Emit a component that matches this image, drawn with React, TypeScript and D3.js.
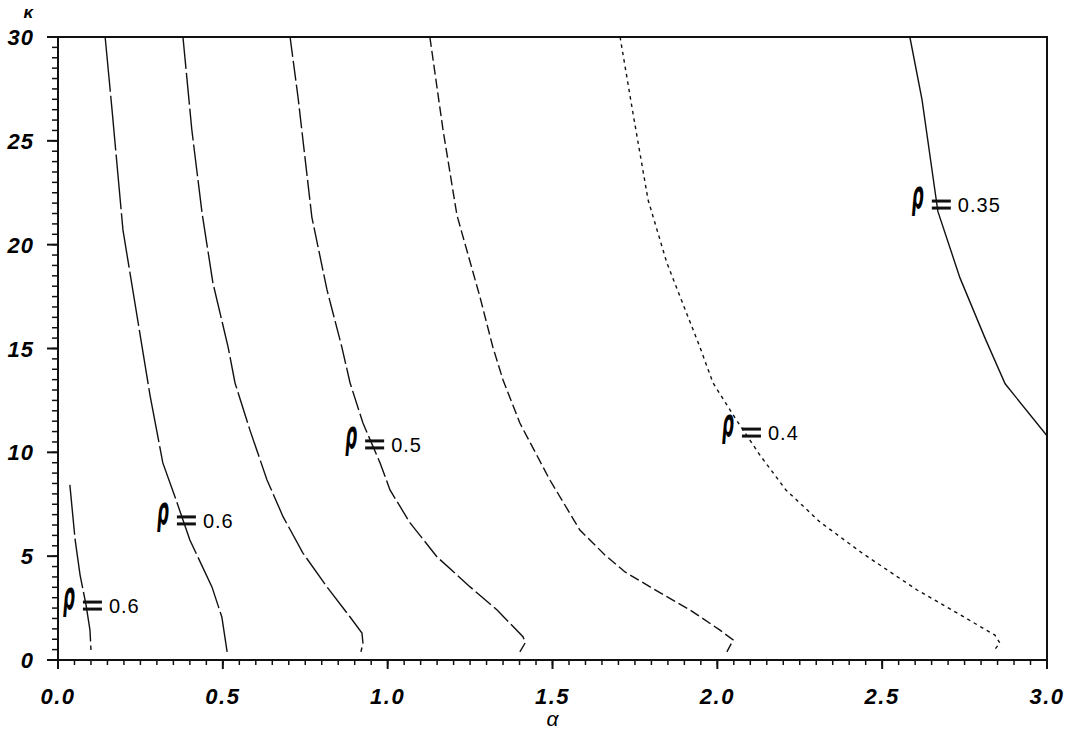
import React from "react";
import * as d3 from "d3";

// ---- data (alpha, kappa) pairs for each contour ----
const contourA: [number, number][] = [
  [0.036, 8.43], [0.052, 5.78], [0.067, 4.09], [0.085, 2.65], [0.097, 1.44], [0.1, 0.48],
];
const contourB: [number, number][] = [
  [0.143, 30], [0.164, 26.48], [0.197, 20.71], [0.279, 12.76], [0.318, 9.49], [0.355, 7.85],
  [0.4, 5.78], [0.467, 3.52], [0.497, 2.07], [0.513, 0.39],
];
const contourC: [number, number][] = [
  [0.379, 30], [0.406, 25.52], [0.437, 21.52], [0.47, 18.15], [0.516, 15.07], [0.537, 13.34],
  [0.582, 11.08], [0.634, 8.67], [0.683, 6.89], [0.743, 5.15], [0.816, 3.52], [0.886, 2.07],
  [0.922, 1.3], [0.925, 0.82], [0.919, 0.39],
];
const contourD: [number, number][] = [
  [0.704, 30], [0.728, 27.11], [0.77, 21.33], [0.816, 17.82], [0.861, 15.07], [0.886, 13.34],
  [0.925, 11.41], [0.977, 9.49], [1.007, 8.19], [1.068, 6.6], [1.15, 4.96], [1.25, 3.52],
  [1.332, 2.41], [1.411, 1.11], [1.417, 0.82], [1.401, 0.39],
];
const contourE: [number, number][] = [
  [1.128, 30], [1.168, 25.52], [1.21, 21.43], [1.28, 17.48], [1.319, 15.07], [1.35, 13.48],
  [1.401, 11.41], [1.492, 8.67], [1.583, 6.26], [1.659, 5.06], [1.72, 4.24], [1.796, 3.52],
  [1.917, 2.41], [2.008, 1.44], [2.048, 0.96], [2.029, 0.39],
];
const contourF: [number, number][] = [
  [1.705, 30], [1.744, 26.34], [1.79, 22.15], [1.847, 19.12], [1.947, 15.07], [1.987, 13.34],
  [2.054, 11.65], [2.129, 9.87], [2.208, 8.19], [2.311, 6.65], [2.439, 5.15], [2.606, 3.37],
  [2.748, 2.07], [2.842, 1.2], [2.857, 0.82], [2.836, 0.39],
];
const contourG: [number, number][] = [
  [2.584, 30], [2.621, 26.97], [2.669, 21.6], [2.736, 18.4], [2.812, 15.5], [2.873, 13.3], [3.0, 10.8],
];

const contourDashes = ["50,4", "55,4", "32,4", "20,4", "10,4", "3.5,4", "none"];
const contours = [contourA, contourB, contourC, contourD, contourE, contourF, contourG];

// labels: rho value and anchor (alpha, kappa) of label
const labelValues = ["0.6", "0.6", "0.5", "0.4", "0.35"];
const labelAlpha = [0.015, 0.3, 0.871, 2.014, 2.59];
const labelKappa = [2.26, 6.36, 10.02, 10.59, 21.57];

const xTickValues = [0, 0.5, 1.0, 1.5, 2.0, 2.5, 3.0];
const yTickValues = [0, 5, 10, 15, 20, 25, 30];

export default function App() {
  const W = 1073, H = 741;
  const x = d3.scaleLinear().domain([0, 3]).range([58, 1047]);
  const y = d3.scaleLinear().domain([0, 30]).range([660, 37]);
  const line = d3
    .line<[number, number]>()
    .x((d) => x(d[0]))
    .y((d) => y(d[1]));

  const xMinor = d3.range(0, 60.5, 1).map((i) => i * 0.05);
  const yMinor = d3.range(0, 60.5, 1).map((i) => i * 0.5);
  const tickFont = "'Liberation Sans', Arial, Helvetica, sans-serif";

  return (
    <svg
      width={W}
      height={H}
      style={{ position: "absolute", left: 0, top: 0, background: "#fff" }}
    >
      <rect x={0} y={0} width={W} height={H} fill="#fff" />
      {/* minor ticks */}
      {xMinor.map((v, i) => (
        <line key={"xm" + i} x1={x(v)} x2={x(v)} y1={660} y2={665} stroke="#111" strokeWidth={1.5} />
      ))}
      {yMinor.map((v, i) => (
        <line key={"ym" + i} x1={52} x2={58} y1={y(v)} y2={y(v)} stroke="#111" strokeWidth={1.5} />
      ))}
      {/* major ticks */}
      {xTickValues.map((v) => (
        <line key={"xM" + v} x1={x(v)} x2={x(v)} y1={660} y2={669} stroke="#111" strokeWidth={2} />
      ))}
      {yTickValues.map((v) => (
        <line key={"yM" + v} x1={47} x2={58} y1={y(v)} y2={y(v)} stroke="#111" strokeWidth={2} />
      ))}
      {/* frame */}
      <rect x={x(0)} y={y(30)} width={x(3) - x(0)} height={y(0) - y(30)} fill="none" stroke="#111" strokeWidth={2} />

      {/* tick labels */}
      {xTickValues.map((v) => (
        <text
          key={"xl" + v}
          x={x(v)}
          y={704}
          textAnchor="middle"
          fontFamily={tickFont}
          fontWeight="bold"
          fontStyle="italic"
          fontSize={22}
          letterSpacing={1.5}
        >
          {d3.format(".1f")(v)}
        </text>
      ))}
      {yTickValues.map((v) => (
        <text
          key={"yl" + v}
          x={34}
          y={y(v) + 8}
          textAnchor="end"
          fontFamily={tickFont}
          fontWeight="bold"
          fontStyle="italic"
          fontSize={22}
          letterSpacing={1}
        >
          {v}
        </text>
      ))}
      <text x={33} y={18} textAnchor="end" fontFamily={tickFont} fontWeight="bold" fontStyle="italic" fontSize={17}>
        κ
      </text>
      <text x={x(1.5)} y={726} textAnchor="middle" fontFamily={tickFont} fontStyle="italic" fontSize={21}>
        α
      </text>

      {/* contours */}
      {contours.map((c, i) => (
        <path
          key={"c" + i}
          d={line(c) || ""}
          fill="none"
          stroke="#111"
          strokeWidth={1.4}
          strokeDasharray={contourDashes[i]}
        />
      ))}

      {/* labels */}
      {labelValues.map((val, i) => {
        const lx = x(labelAlpha[i]);
        const ly = y(labelKappa[i]);
        return (
          <g key={"lab" + i} transform={`translate(${lx},${ly})`}>
            <text
              transform="translate(0,-4) scale(0.75,1.75)"
              fontFamily="'DejaVu Sans', sans-serif"
              fontWeight="bold"
              fontStyle="italic"
              fontSize={22}
            >
              ρ
            </text>
            <line x1={20} x2={39} y1={-11} y2={-11} stroke="#111" strokeWidth={3} />
            <line x1={20} x2={39} y1={-4} y2={-4} stroke="#111" strokeWidth={3} />
            <text x={46} y={0} fontFamily={tickFont} fontSize={20} letterSpacing={1}>
              {val}
            </text>
          </g>
        );
      })}
    </svg>
  );
}
